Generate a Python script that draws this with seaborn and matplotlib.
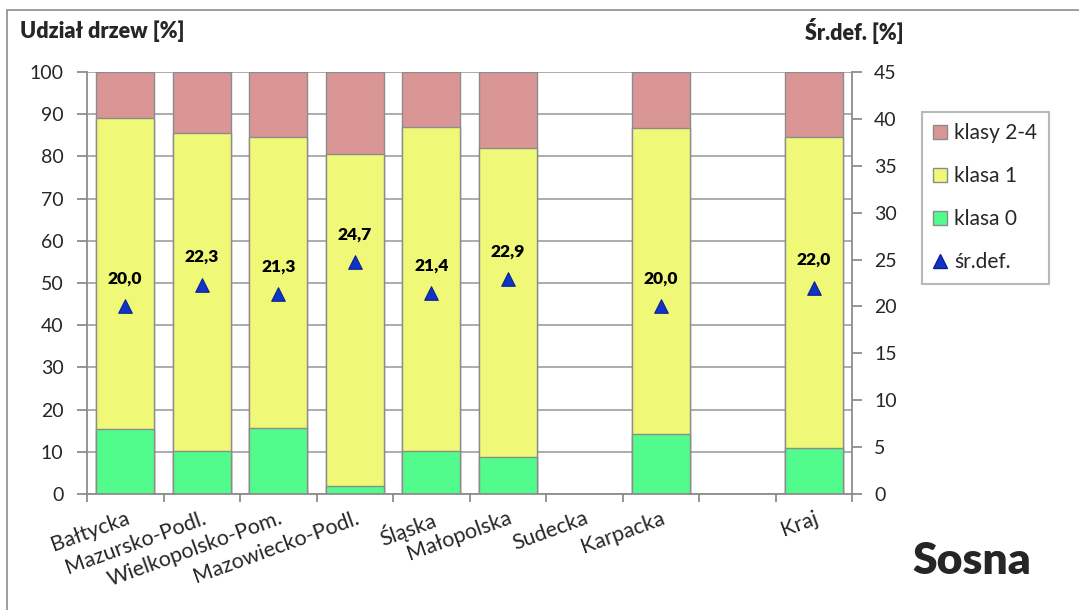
import numpy as np
import pandas as pd
import matplotlib
matplotlib.use("Agg")
import matplotlib.pyplot as plt
import seaborn as sns
from matplotlib.patches import Patch, Rectangle
from matplotlib.lines import Line2D

# Regions (the blank slot separates the national total)
regions = ["Bałtycka", "Mazursko-Podl.", "Wielkopolsko-Pom.", "Mazowiecko-Podl.",
           "Śląska", "Małopolska", "Sudecka", "Karpacka", "", "Kraj"]
klasa_0 = [15.5, 10.2, 15.6, 1.9, 10.2, 8.8, np.nan, 14.1, np.nan, 10.9]
klasa_1 = [73.5, 75.4, 69.1, 78.7, 76.7, 73.1, np.nan, 72.6, np.nan, 73.7]
klasy_2_4 = [11.0, 14.4, 15.3, 19.4, 13.1, 18.1, np.nan, 13.3, np.nan, 15.4]
sr_def = [20.0, 22.3, 21.3, 24.7, 21.4, 22.9, np.nan, 20.0, np.nan, 22.0]

PINK = "#DA9694"
YELLOW = "#F0F878"
GREEN = "#52FC8C"
BLUE = "#1034C8"
EDGE = "#8C8C8C"
GRID = "#A6A6A6"

sns.set_theme(style="white")
plt.rcParams["font.family"] = ["Lato", "DejaVu Sans"]

df = pd.DataFrame({"region": regions, "k0": klasa_0, "k1": klasa_1, "k24": klasy_2_4})
df["c0"] = df["k0"]
df["c1"] = df["k0"] + df["k1"]
df["c2"] = df["k0"] + df["k1"] + df["k24"]

fig = plt.figure(figsize=(10.79, 6.10), dpi=100)
ax = fig.add_axes([87 / 1079, 1 - 494 / 610, (852 - 87) / 1079, (494 - 72) / 610])

# Stacked bars: draw cumulative totals from the top layer down
for col, colr in [("c2", PINK), ("c1", YELLOW), ("c0", GREEN)]:
    sns.barplot(data=df, x="region", y=col, order=regions, color=colr,
                saturation=1, width=0.76, edgecolor=EDGE, linewidth=1.0,
                errorbar=None, ax=ax)

ax.set_xlim(-0.5, len(regions) - 0.5)
ax.set_ylim(0, 100)
ax.set_yticks(np.arange(0, 101, 10))
ax.set_axisbelow(True)
ax.yaxis.grid(True, color=GRID, linewidth=1.3)
ax.xaxis.grid(False)
ax.set_xlabel("")
ax.set_ylabel("")

for side in ["top", "right"]:
    ax.spines[side].set_visible(False)
for side in ["left", "bottom"]:
    ax.spines[side].set_color(EDGE)
    ax.spines[side].set_linewidth(1.3)

ax.set_xticks(np.arange(len(regions)))
ax.set_xticklabels(regions, rotation=20, ha="right", va="top",
                   rotation_mode="anchor", fontsize=15.5)
ax.set_xticks(np.arange(-0.5, len(regions)), minor=True)
ax.tick_params(axis="x", which="major", length=0, pad=10)
ax.tick_params(axis="x", which="minor", length=6, width=1.3, color=EDGE,
               direction="out", bottom=True)
ax.tick_params(axis="y", which="major", length=7, width=1.3, color=EDGE,
               direction="out", left=True, labelsize=14, pad=10)

# Mean defoliation on the secondary axis
ax2 = ax.twinx()
pos = np.arange(len(regions))
sns.scatterplot(x=pos, y=sr_def, marker="^", s=95, color=BLUE,
                edgecolor="#0A2290", linewidth=0.8, legend=False, ax=ax2, zorder=5)
for i, v in enumerate(sr_def):
    if not np.isnan(v):
        ax2.annotate(f"{v:.1f}".replace(".", ","), (i, v), xytext=(0, 20),
                     textcoords="offset points", ha="center", va="center",
                     fontsize=12.5, fontweight="heavy", color="black")
ax2.set_ylim(0, 45)
ax2.set_yticks(np.arange(0, 46, 5))
ax2.set_xlim(-0.5, len(regions) - 0.5)
ax2.grid(False)
for side in ["top", "left", "bottom"]:
    ax2.spines[side].set_visible(False)
ax2.spines["right"].set_color(EDGE)
ax2.spines["right"].set_linewidth(1.3)
ax2.tick_params(axis="y", length=7, width=1.3, color=EDGE, direction="out",
                right=True, labelsize=14, pad=9)
ax2.set_ylabel("")

# Axis captions and species name
fig.text(20 / 1079, 1 - 31 / 610, "Udział drzew [%]", fontsize=15.5,
         fontweight="heavy", ha="left", va="center")
fig.text(805 / 1079, 1 - 31 / 610, "Śr.def. [%]", fontsize=15.5,
         fontweight="heavy", ha="left", va="center")
fig.text(972 / 1079, 1 - 561 / 610, "Sosna", fontsize=32,
         fontweight="heavy", ha="center", va="center")

handles = [
    Patch(facecolor=PINK, edgecolor=EDGE, label="klasy 2-4"),
    Patch(facecolor=YELLOW, edgecolor=EDGE, label="klasa 1"),
    Patch(facecolor=GREEN, edgecolor=EDGE, label="klasa 0"),
    Line2D([], [], marker="^", linestyle="None", color=BLUE,
           markeredgecolor="#0A2290", markersize=10, label="śr.def."),
]
leg = fig.legend(handles=handles, loc="upper left",
                 bbox_to_anchor=(922 / 1079, 1 - 112 / 610),
                 fontsize=15, frameon=True, fancybox=False,
                 handlelength=0.65, handleheight=0.65, handletextpad=0.35,
                 labelspacing=1.1, borderpad=0.55, borderaxespad=0)
leg.get_frame().set_edgecolor(GRID)
leg.get_frame().set_linewidth(1.5)

# Outer chart frame
fig.patches.append(Rectangle((7 / 1079, -0.1), 1.2, 1.1 - 10 / 610,
                             transform=fig.transFigure, fill=False,
                             edgecolor=EDGE, linewidth=1.2))

fig.savefig("out.png", dpi=100)
